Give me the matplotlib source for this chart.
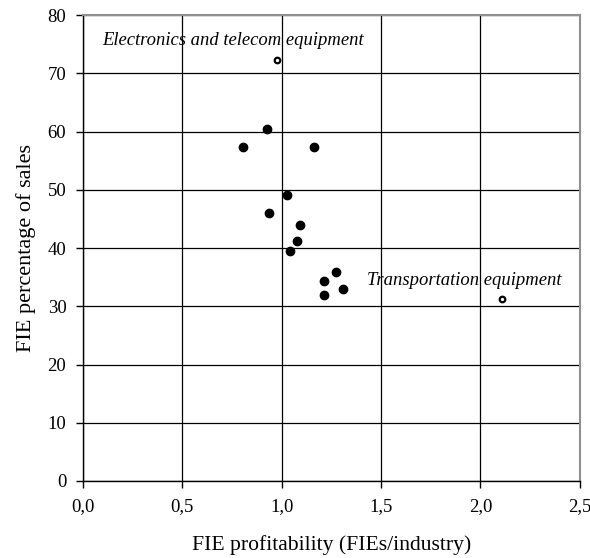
import matplotlib
matplotlib.use("Agg")
import matplotlib.pyplot as plt
from matplotlib.ticker import FuncFormatter

plt.rcParams['font.family'] = ['Liberation Serif', 'DejaVu Serif']

# Filled points: industries
fie_profit = [0.924, 0.804, 1.164, 1.025, 0.934, 1.094, 1.075, 1.043, 1.275, 1.215, 1.307, 1.215]
fie_share = [60.4, 57.3, 57.3, 49.1, 46.0, 43.9, 41.2, 39.5, 35.8, 34.4, 33.0, 31.9]

# Highlighted (open) points
hl_names = ["Electronics and telecom equipment", "Transportation equipment"]
hl_profit = [0.975, 2.110]
hl_share = [72.2, 31.2]

fig = plt.figure(figsize=(5.9, 5.58), dpi=100)
ax = fig.add_axes([0.1407, 0.138, 0.842, 0.835])

ax.set_xlim(0, 2.5)
ax.set_ylim(0, 80)
ax.set_xticks([0, 0.5, 1.0, 1.5, 2.0, 2.5])
ax.set_yticks(range(0, 81, 10))
ax.xaxis.set_major_formatter(FuncFormatter(lambda v, p: f"{v:.1f}".replace('.', ',')))
ax.grid(True, color='black', linewidth=0.9)
ax.set_axisbelow(True)

ax.scatter(fie_profit, fie_share, s=36, color='black', zorder=3)
ax.scatter(hl_profit, hl_share, s=16, facecolor='white', edgecolor='black', linewidths=1.6, zorder=3)

ax.text(0.099, 74.8, hl_names[0], style='italic', fontsize=13.4, ha='left', va='baseline')
ax.text(1.428, 33.6, hl_names[1], style='italic', fontsize=13.4, ha='left', va='baseline')

for s in ['left', 'bottom']:
    ax.spines[s].set_color('black')
    ax.spines[s].set_linewidth(1.0)
for s in ['top', 'right']:
    ax.spines[s].set_color('#909090')
    ax.spines[s].set_linewidth(1.5)

ax.tick_params(direction='out', length=5, width=1, labelsize=13.5, colors='black', pad=7)
ax.set_xlabel("FIE profitability (FIEs/industry)", fontsize=15.6, labelpad=15)
ax.set_ylabel("FIE percentage of sales", fontsize=16, labelpad=8)

fig.savefig("out.png", dpi=100)
